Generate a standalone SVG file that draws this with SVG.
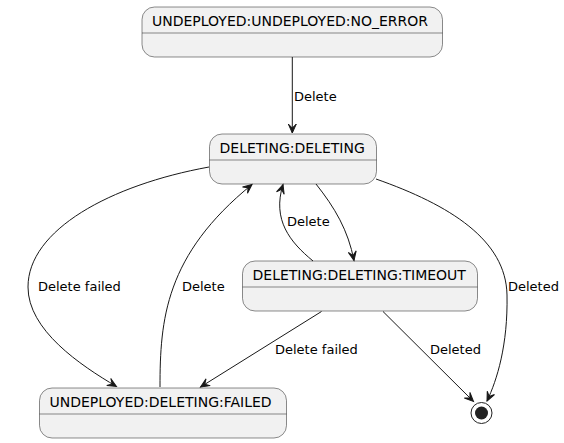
<svg xmlns="http://www.w3.org/2000/svg" width="564" height="443" viewBox="0 0 564 443">
<style>
.st{fill:#F1F1F1;stroke:#181818;stroke-width:0.5}
.dv{stroke:#181818;stroke-width:0.5}
.t{font-family:"DejaVu Sans",sans-serif;font-size:14px;fill:#000}
.l{font-family:"DejaVu Sans",sans-serif;font-size:13px;fill:#000}
.e{fill:none;stroke:#181818;stroke-width:1;marker-end:url(#ah)}
</style>
<defs>
<marker id="ah" markerUnits="userSpaceOnUse" viewBox="-10 -5 11 10" refX="0" refY="0" markerWidth="11" markerHeight="10" orient="auto" overflow="visible">
<polygon points="0,0 -9,-4 -5,0 -9,4" fill="#181818" stroke="#181818" stroke-width="1"/>
</marker>
</defs>
<rect width="564" height="443" fill="#fff"/>
<g id="n_noerror">
<rect class="st" x="142" y="7" width="300.5" height="50" rx="12.5"/>
<line class="dv" x1="142" y1="33" x2="442.5" y2="33"/>
<text class="t" x="152" y="25.5">UNDEPLOYED:UNDEPLOYED:NO_ERROR</text>
</g>
<g id="n_deleting">
<rect class="st" x="209.5" y="134" width="167" height="50" rx="12.5"/>
<line class="dv" x1="209.5" y1="160" x2="376.5" y2="160"/>
<text class="t" x="219.5" y="152.5">DELETING:DELETING</text>
</g>
<g id="n_timeout">
<rect class="st" x="242.5" y="261" width="235" height="50" rx="12.5"/>
<line class="dv" x1="242.5" y1="287" x2="477.5" y2="287"/>
<text class="t" x="252.5" y="279.5">DELETING:DELETING:TIMEOUT</text>
</g>
<g id="n_failed">
<rect class="st" x="39.5" y="388" width="247" height="50" rx="12.5"/>
<line class="dv" x1="39.5" y1="414" x2="286.5" y2="414"/>
<text class="t" x="49.5" y="406.5">UNDEPLOYED:DELETING:FAILED</text>
</g>
<g id="n_end">
<circle cx="481.5" cy="413" r="10.5" fill="none" stroke="#222" stroke-width="1"/>
<circle cx="481.5" cy="413" r="6.5" fill="#222"/>
</g>
<g id="connectors">
<path class="e" d="M292.3,57 L292.3,133"/>
<text class="l" x="294" y="100.5">Delete</text>
<path class="e" d="M209,167 C110,185 28,230 28,287 C28,330 80,365 116.5,386.5"/>
<text class="l" x="38" y="291">Delete failed</text>
<path class="e" d="M160,387 C160,320 165,255 252,184.5"/>
<text class="l" x="182" y="291">Delete</text>
<path class="e" d="M313,261 C290,242 272,220 283,184.5"/>
<text class="l" x="287" y="226">Delete</text>
<path class="e" d="M316,184 C335,208 348,230 354,260.5"/>
<path class="e" d="M376,179 C450,205 506,240 507,295 C508,345 497,380 487,401"/>
<text class="l" x="508" y="291">Deleted</text>
<path class="e" d="M383,311.5 L473.5,401.5"/>
<text class="l" x="430" y="354">Deleted</text>
<path class="e" d="M321.5,311.5 L200.5,387"/>
<text class="l" x="275" y="354">Delete failed</text>
</g>
</svg>
